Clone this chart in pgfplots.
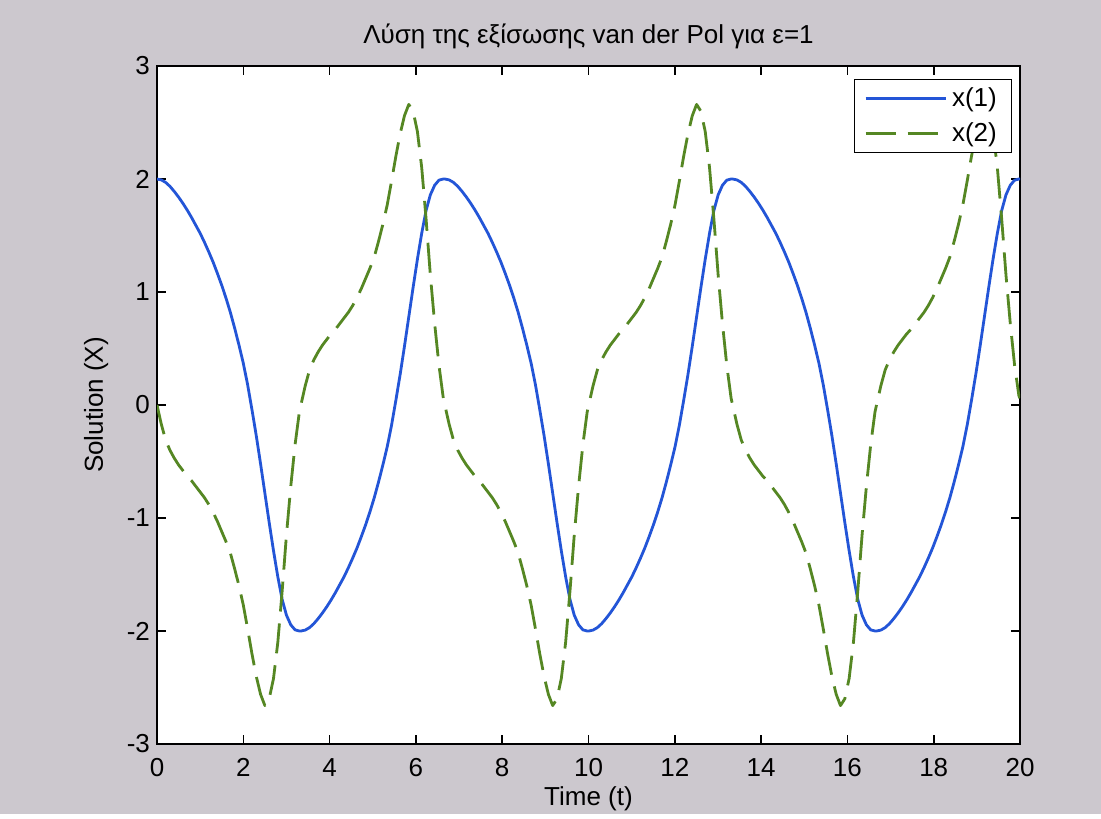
\documentclass[border=0pt]{standalone}
\usepackage{fontspec}
\setmainfont{Liberation Sans}
\usepackage{pgfplots}
\usepackage{pgfplotstable}
\pgfplotsset{compat=1.18}
\definecolor{figbg}{RGB}{204,200,206}
\definecolor{mblue}{RGB}{35,85,215}
\definecolor{mgreen}{RGB}{85,135,35}
\pgfplotstableread{
t x1 x2
0.000 2.000 0.00
0.100 1.992 -0.17
0.200 1.970 -0.31
0.300 1.935 -0.40
0.400 1.890 -0.47
0.500 1.840 -0.53
0.600 1.785 -0.58
0.700 1.725 -0.63
0.800 1.660 -0.67
0.900 1.590 -0.72
1.000 1.520 -0.77
1.100 1.440 -0.82
1.200 1.355 -0.88
1.300 1.265 -0.95
1.400 1.165 -1.03
1.500 1.060 -1.12
1.600 0.945 -1.21
1.700 0.820 -1.31
1.800 0.680 -1.45
1.900 0.530 -1.60
2.000 0.370 -1.77
2.100 0.180 -1.98
2.200 -0.040 -2.20
2.300 -0.270 -2.40
2.400 -0.520 -2.56
2.500 -0.780 -2.66
2.600 -1.040 -2.60
2.700 -1.290 -2.42
2.800 -1.520 -2.10
2.900 -1.720 -1.65
3.000 -1.860 -1.15
3.100 -1.945 -0.72
3.200 -1.990 -0.35
3.300 -2.000 -0.06
3.335 -2.000 0.00
3.435 -1.992 0.17
3.535 -1.970 0.31
3.635 -1.935 0.40
3.735 -1.890 0.47
3.835 -1.840 0.53
3.935 -1.785 0.58
4.035 -1.725 0.63
4.135 -1.660 0.67
4.235 -1.590 0.72
4.335 -1.520 0.77
4.435 -1.440 0.82
4.535 -1.355 0.88
4.635 -1.265 0.95
4.735 -1.165 1.03
4.835 -1.060 1.12
4.935 -0.945 1.21
5.035 -0.820 1.31
5.135 -0.680 1.45
5.235 -0.530 1.60
5.335 -0.370 1.77
5.435 -0.180 1.98
5.535 0.040 2.20
5.635 0.270 2.40
5.735 0.520 2.56
5.835 0.780 2.66
5.935 1.040 2.60
6.035 1.290 2.42
6.135 1.520 2.10
6.235 1.720 1.65
6.335 1.860 1.15
6.435 1.945 0.72
6.535 1.990 0.35
6.635 2.000 0.06
6.670 2.000 0.00
6.770 1.992 -0.17
6.870 1.970 -0.31
6.970 1.935 -0.40
7.070 1.890 -0.47
7.170 1.840 -0.53
7.270 1.785 -0.58
7.370 1.725 -0.63
7.470 1.660 -0.67
7.570 1.590 -0.72
7.670 1.520 -0.77
7.770 1.440 -0.82
7.870 1.355 -0.88
7.970 1.265 -0.95
8.070 1.165 -1.03
8.170 1.060 -1.12
8.270 0.945 -1.21
8.370 0.820 -1.31
8.470 0.680 -1.45
8.570 0.530 -1.60
8.670 0.370 -1.77
8.770 0.180 -1.98
8.870 -0.040 -2.20
8.970 -0.270 -2.40
9.070 -0.520 -2.56
9.170 -0.780 -2.66
9.270 -1.040 -2.60
9.370 -1.290 -2.42
9.470 -1.520 -2.10
9.570 -1.720 -1.65
9.670 -1.860 -1.15
9.770 -1.945 -0.72
9.870 -1.990 -0.35
9.970 -2.000 -0.06
10.005 -2.000 0.00
10.105 -1.992 0.17
10.205 -1.970 0.31
10.305 -1.935 0.40
10.405 -1.890 0.47
10.505 -1.840 0.53
10.605 -1.785 0.58
10.705 -1.725 0.63
10.805 -1.660 0.67
10.905 -1.590 0.72
11.005 -1.520 0.77
11.105 -1.440 0.82
11.205 -1.355 0.88
11.305 -1.265 0.95
11.405 -1.165 1.03
11.505 -1.060 1.12
11.605 -0.945 1.21
11.705 -0.820 1.31
11.805 -0.680 1.45
11.905 -0.530 1.60
12.005 -0.370 1.77
12.105 -0.180 1.98
12.205 0.040 2.20
12.305 0.270 2.40
12.405 0.520 2.56
12.505 0.780 2.66
12.605 1.040 2.60
12.705 1.290 2.42
12.805 1.520 2.10
12.905 1.720 1.65
13.005 1.860 1.15
13.105 1.945 0.72
13.205 1.990 0.35
13.305 2.000 0.06
13.340 2.000 0.00
13.440 1.992 -0.17
13.540 1.970 -0.31
13.640 1.935 -0.40
13.740 1.890 -0.47
13.840 1.840 -0.53
13.940 1.785 -0.58
14.040 1.725 -0.63
14.140 1.660 -0.67
14.240 1.590 -0.72
14.340 1.520 -0.77
14.440 1.440 -0.82
14.540 1.355 -0.88
14.640 1.265 -0.95
14.740 1.165 -1.03
14.840 1.060 -1.12
14.940 0.945 -1.21
15.040 0.820 -1.31
15.140 0.680 -1.45
15.240 0.530 -1.60
15.340 0.370 -1.77
15.440 0.180 -1.98
15.540 -0.040 -2.20
15.640 -0.270 -2.40
15.740 -0.520 -2.56
15.840 -0.780 -2.66
15.940 -1.040 -2.60
16.040 -1.290 -2.42
16.140 -1.520 -2.10
16.240 -1.720 -1.65
16.340 -1.860 -1.15
16.440 -1.945 -0.72
16.540 -1.990 -0.35
16.640 -2.000 -0.06
16.675 -2.000 0.00
16.775 -1.992 0.17
16.875 -1.970 0.31
16.975 -1.935 0.40
17.075 -1.890 0.47
17.175 -1.840 0.53
17.275 -1.785 0.58
17.375 -1.725 0.63
17.475 -1.660 0.67
17.575 -1.590 0.72
17.675 -1.520 0.77
17.775 -1.440 0.82
17.875 -1.355 0.88
17.975 -1.265 0.95
18.075 -1.165 1.03
18.175 -1.060 1.12
18.275 -0.945 1.21
18.375 -0.820 1.31
18.475 -0.680 1.45
18.575 -0.530 1.60
18.675 -0.370 1.77
18.775 -0.180 1.98
18.875 0.040 2.20
18.975 0.270 2.40
19.075 0.520 2.56
19.175 0.780 2.66
19.275 1.040 2.60
19.375 1.290 2.42
19.475 1.520 2.10
19.575 1.720 1.65
19.675 1.860 1.15
19.775 1.945 0.72
19.875 1.990 0.35
19.975 2.000 0.08
20.000 2.000 0.06
}\vdp
\begin{document}
\begin{tikzpicture}[x=1pt,y=1pt]
\fill[figbg] (-78.5,-35) rectangle (472,372);
\begin{axis}[
  at={(0,0)}, anchor=south west, scale only axis,
  width=431.5pt, height=339pt,
  xmin=0, xmax=20, ymin=-3, ymax=3,
  xtick={0,2,...,20}, ytick={-3,-2,-1,0,1,2,3},
  tick align=inside, major tick length=4.5pt,
  axis line style={line width=0.8pt},
  every tick/.style={black, line width=0.8pt},
  axis background/.style={fill=white},
  font=\fontsize{13}{15.6}\selectfont,
  ticklabel style={font=\fontsize{13}{15.6}\selectfont},
  /pgf/number format/assume math mode=true,
  xticklabel style={anchor=base, yshift=-16pt},
  title={Λύση της εξίσωσης van der Pol για ε=1},
  every axis title/.style={at={(axis description cs:0.5,1.0335)}, anchor=base},
  xlabel={Time (t)},
  every axis x label/.style={at={(axis description cs:0.5,-0.0914)}, anchor=base},
  ylabel={Solution (X)},
  every axis y label/.style={at={(axis description cs:-0.0626,0.5)}, rotate=90, anchor=base},
  legend cell align=left,
  legend image code/.code={\draw[#1] (0pt,0pt) -- (40pt,0pt);},
  legend style={at={(axis description cs:1,1)}, anchor=north east,
    xshift=-4pt, yshift=-6.5pt, draw=black, line width=0.6pt, fill=white,
    font=\fontsize{13}{15.6}\selectfont,
    inner xsep=4.8pt, inner ysep=1.5pt, row sep=1.5pt,
    nodes={inner sep=2.5pt}},
]
\addplot[mblue, line width=1.4pt, line join=round] table[x=t, y=x1] {\vdp};
\addlegendentry{x(1)}
\addplot[mgreen, line width=1.4pt, line join=round, dash pattern=on 15pt off 6pt] table[x=t, y=x2] {\vdp};
\addlegendentry{x(2)}
\end{axis}
\end{tikzpicture}
\end{document}
